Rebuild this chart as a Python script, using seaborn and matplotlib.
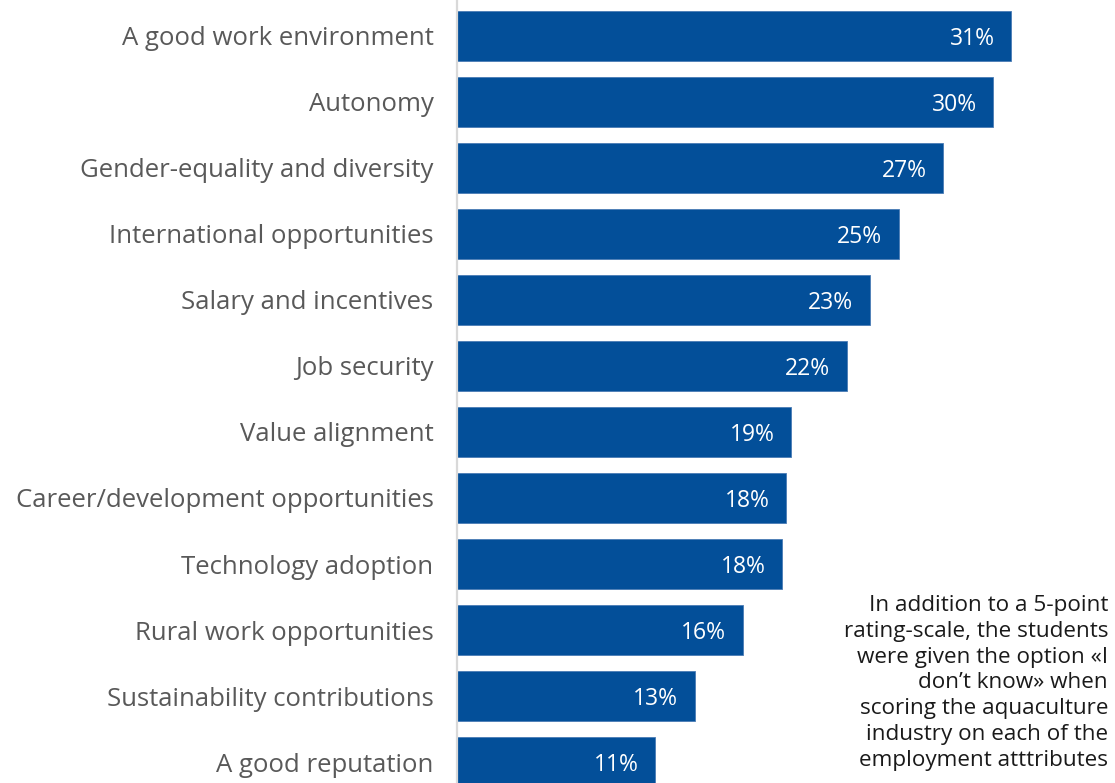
import matplotlib
matplotlib.use("Agg")
import matplotlib.pyplot as plt
import seaborn as sns
import pandas as pd

# Share of students rating each employment attribute (percent)
attributes = [
    "A good work environment",
    "Autonomy",
    "Gender-equality and diversity",
    "International opportunities",
    "Salary and incentives",
    "Job security",
    "Value alignment",
    "Career/development opportunities",
    "Technology adoption",
    "Rural work opportunities",
    "Sustainability contributions",
    "A good reputation",
]
shares = [31.0, 30.0, 27.2, 24.7, 23.1, 21.8, 18.7, 18.4, 18.2, 16.0, 13.3, 11.1]

note_text = (
    "In addition to a 5-point\n"
    "rating-scale, the students\n"
    "were given the option «I\n"
    "don’t know» when\n"
    "scoring the aquaculture\n"
    "industry on each of the\n"
    "employment atttributes"
)

BAR_COLOR = "#034F99"
LABEL_GREY = "#595959"

sns.set_theme(style="white")
plt.rcParams["font.family"] = ["Open Sans", "DejaVu Sans"]

df = pd.DataFrame({"attribute": attributes, "share": shares})

fig = plt.figure(figsize=(11.15, 7.83), dpi=100)
ax = fig.add_axes([457 / 1115, 0.0, 1 - 457 / 1115, 1.0])

sns.barplot(
    data=df, y="attribute", x="share", orient="h",
    color=BAR_COLOR, saturation=1, width=0.76, ax=ax,
    edgecolor="#4a7bb5", linewidth=0.6,
)

ax.set_xlim(0, 36.8)
ax.set_ylim(11.318, -0.545)
ax.set_xlabel("")
ax.set_ylabel("")
ax.set_xticks([])
ax.tick_params(axis="y", length=0, pad=17, labelsize=18.5, labelcolor=LABEL_GREY)

for side in ("top", "right", "bottom"):
    ax.spines[side].set_visible(False)
ax.spines["left"].set_color("#d9d9d9")
ax.spines["left"].set_linewidth(1.6)

# Value labels inside the bar ends
for i, v in enumerate(shares):
    ax.annotate(
        f"{v:.0f}%", xy=(v, i), xytext=(-12, 0), textcoords="offset points",
        ha="right", va="center_baseline", color="white", fontsize=16.5,
    )

fig.text(
    1108 / 1115, 1 - 595 / 783, note_text, ha="right", va="top",
    fontsize=16.2, color="#1a1a1a", linespacing=1.3,
)

fig.savefig("out.png", dpi=100)
